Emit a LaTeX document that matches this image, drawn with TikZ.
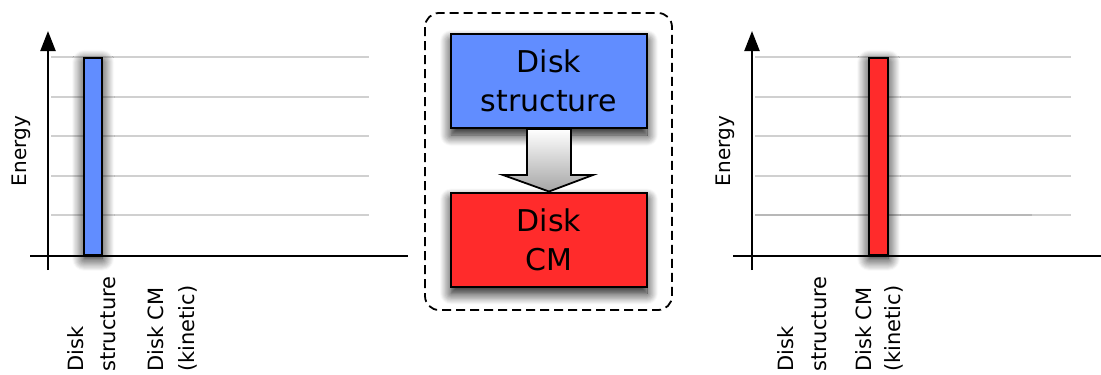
\documentclass[tikz,border=0pt]{standalone}
\usepackage{fontspec}
\setmainfont{DejaVu Sans}
\usetikzlibrary{arrows.meta,shadows.blur}

\definecolor{diskblue}{RGB}{97,141,255}
\definecolor{diskred}{RGB}{255,43,43}
\definecolor{gridgray}{RGB}{208,208,208}

\tikzset{
  axis/.style={line width=2.2pt,black},
  yaxis/.style={axis,-{Triangle[width=15pt,length=20pt]}},
  gridline/.style={line width=2.2pt,gridgray},
  barshadow/.style={blur shadow={shadow xshift=0pt,shadow yshift=-4pt,
      shadow blur radius=12pt,shadow blur steps=12,shadow opacity=100}},
  bar/.style={draw=black,line width=2.2pt,inner sep=0pt,barshadow},
  catlabel/.style={rotate=90,anchor=base west,inner sep=0pt,
      font=\fontsize{21}{24}\selectfont},
  energylabel/.style={rotate=90,anchor=base,inner sep=0pt,
      font=\fontsize{20}{24}\selectfont},
  stagebox/.style={draw=black,line width=2pt,minimum width=196pt,
      minimum height=94pt,inner sep=0pt,align=center,
      font=\fontsize{30}{39}\selectfont,
      blur shadow={shadow xshift=0pt,shadow yshift=-7pt,
      shadow blur radius=11pt,shadow blur steps=12,shadow opacity=95}},
}

\begin{document}
\begin{tikzpicture}[x=1pt,y=-1pt]
  \useasboundingbox (0,0) rectangle (1101,375);

  % ---------- left energy chart: all energy in the disk structure ----------
  \foreach \gy in {57,97,136,176,215}
    \draw[gridline] (51,\gy) -- (369,\gy);
  \node[bar,fill=diskblue,minimum width=18pt,minimum height=197pt,
        anchor=south west] (barL) at (83,256) {};
  \coordinate (oxL) at (30,256);
  \coordinate (exL) at (408,256);
  \coordinate (oyL) at (48,270);
  \coordinate (eyL) at (48,31);
  \draw[axis] (oxL) -- (exL);
  \draw[yaxis] (oyL) -- (eyL);
  \node[energylabel] (enL) at (27,151) {Energy};
  \node[catlabel] (lbL1) at (83,372) {Disk};
  \node[catlabel] (lbL2) at (115,372) {structure};
  \node[catlabel] (lbL3) at (163,372) {Disk CM};
  \node[catlabel] (lbL4) at (194,372) {(kinetic)};

  % ---------- centre: transfer from structure to centre-of-mass motion ----------
  \draw[line width=1.8pt,dash pattern=on 9pt off 5pt,rounded corners=14pt]
    (425,13) rectangle (672,310);
  \node[stagebox,fill=diskblue] (src) at (549,81) {Disk\\structure};
  \node[stagebox,fill=diskred] (dst) at (549,239.5) {Disk\\CM};
  \shade[top color=white,bottom color=black!35,draw=black,line width=1.8pt,
         line join=miter]
    (src.south -| 527,0) -- (527,175) -- (503,175) -- (dst.north)
    -- (593,175) -- (571,175) -- (src.south -| 571,0) -- cycle;

  % ---------- right energy chart: all energy in the disk CM motion ----------
  \foreach \gy in {57,97,136,176,215}
    \draw[gridline] (755,\gy) -- (1071,\gy);
  \draw[line width=2.2pt,black!28] (755,215) -- (1032,215);
  \node[bar,fill=diskred,minimum width=19pt,minimum height=197pt,
        anchor=south west] (barR) at (868,256) {};
  \coordinate (oxR) at (733,256);
  \coordinate (exR) at (1101,256);
  \coordinate (oyR) at (752,270);
  \coordinate (eyR) at (752,31);
  \draw[axis] (oxR) -- (exR);
  \draw[yaxis] (oyR) -- (eyR);
  \node[energylabel] (enR) at (730,151) {Energy};
  \node[catlabel] (lbR1) at (793,372) {Disk};
  \node[catlabel] (lbR2) at (826,372) {structure};
  \node[catlabel] (lbR3) at (871,372) {Disk CM};
  \node[catlabel] (lbR4) at (900,372) {(kinetic)};
\end{tikzpicture}
\end{document}
